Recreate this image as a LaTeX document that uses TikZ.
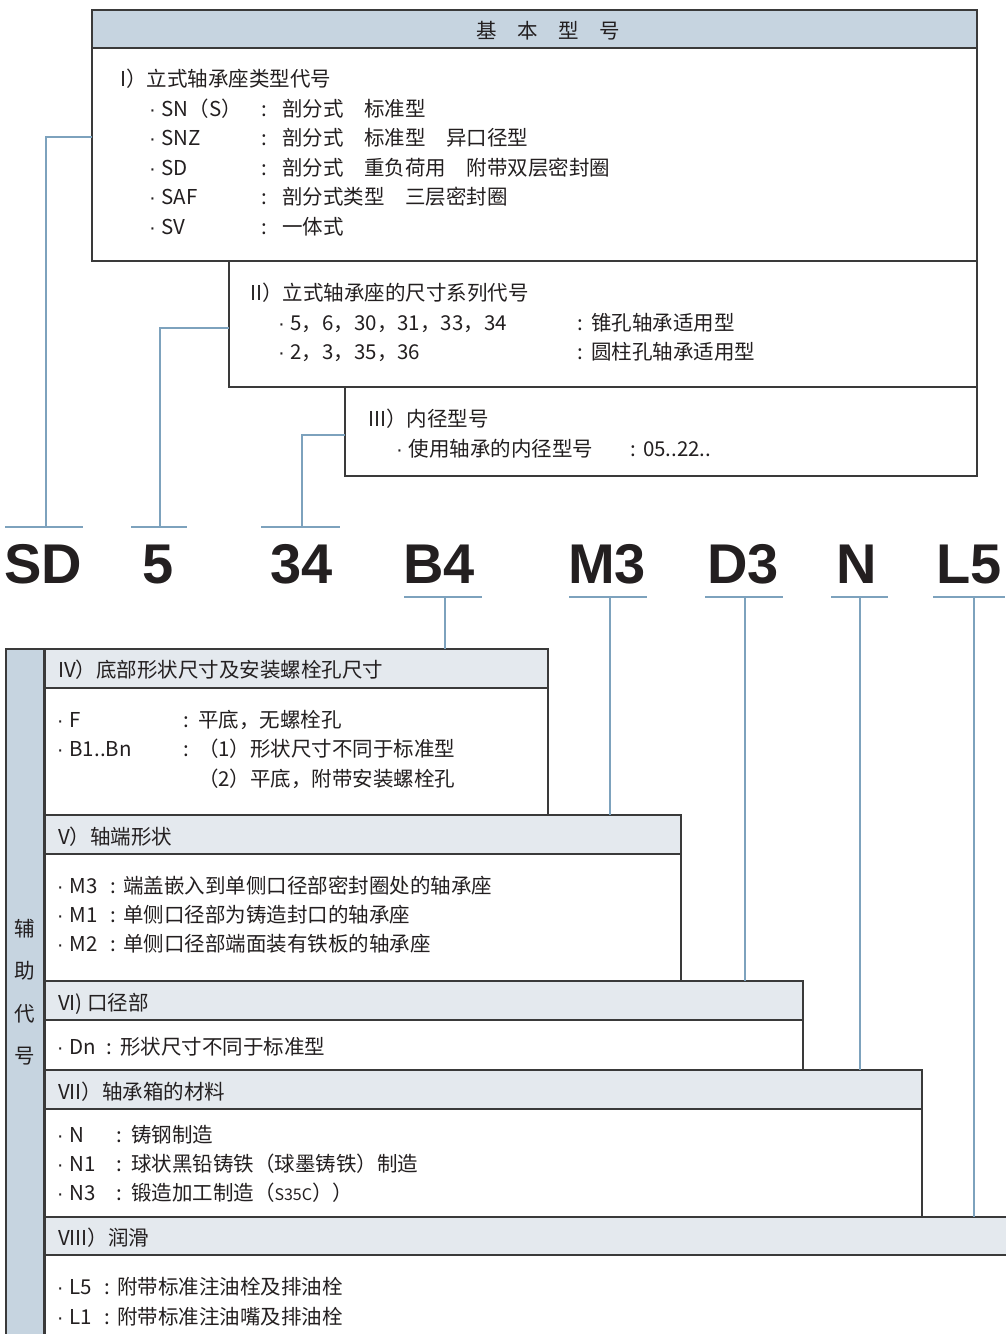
\documentclass[tikz,border=0pt]{standalone}
\usepackage{fontspec}
\setmainfont{Noto Sans CJK SC}
\newfontfamily\bigfont{Liberation Sans}
\newfontfamily\latfont{Liberation Sans}
\newcommand\bul{\makebox[13.5pt][l]{\latfont\hspace{1pt}·}}
\definecolor{hdrblue}{HTML}{C6D4E0}
\definecolor{subgrey}{HTML}{E4E9EE}
\definecolor{linkblue}{HTML}{7DA2BD}
\definecolor{frame}{HTML}{3A3A3A}
\definecolor{ink}{HTML}{231F20}
\begin{document}
\begin{tikzpicture}[x=1pt,y=-1pt,
  txt/.style={font=\fontsize{20.5}{21}\selectfont, text=ink, inner sep=0, outer sep=0, anchor=base west},
  colon/.style={font=\fontsize{20.5}{21}\selectfont, text=ink, inner sep=0, outer sep=0, anchor=base},
  biglet/.style={font=\bigfont\bfseries\fontsize{56}{56}\selectfont, text=ink, inner sep=0, anchor=base},
  topbox/.style={draw=frame, line width=1.3pt, fill=white, anchor=north west, inner sep=0, outer sep=0},
  tophead/.style={topbox, fill=hdrblue},
  subhead/.style={topbox, fill=subgrey},
  conn/.style={draw=linkblue, line width=2.4pt}
]
\useasboundingbox (0,0) rectangle (1005,1334);
\fill[white] (0,0) rectangle (1005,1334);

% ---------- basic type boxes ----------
\node[topbox, minimum width=885pt, minimum height=213pt] (b1body) at (92,48) {};
\node[tophead, minimum width=885pt, minimum height=38pt] (b1head) at (92,10) {};
\node[topbox, minimum width=748pt, minimum height=126pt] (b2body) at (229,261) {};
\node[topbox, minimum width=632pt, minimum height=89pt] (b3body) at (345,387) {};

\node[txt, anchor=base] (hdr) at (548,38) {基\hspace{20.5pt}本\hspace{20.5pt}型\hspace{20.5pt}号};

\node[txt] (t1) at (120,86) {I）立式轴承座类型代号};
\node[txt] (t1a) at (148,116) {\bul SN（S）};
\node[colon] (c1a) at (264,116) {:};
\node[txt] (d1a) at (282,116) {剖分式　标准型};
\node[txt] (t1b) at (148,145) {\bul SNZ};
\node[colon] (c1b) at (264,145) {:};
\node[txt] (d1b) at (282,145) {剖分式　标准型　异口径型};
\node[txt] (t1c) at (148,175) {\bul SD};
\node[colon] (c1c) at (264,175) {:};
\node[txt] (d1c) at (282,175) {剖分式　重负荷用　附带双层密封圈};
\node[txt] (t1d) at (148,204) {\bul SAF};
\node[colon] (c1d) at (264,204) {:};
\node[txt] (d1d) at (282,204) {剖分式类型　三层密封圈};
\node[txt] (t1e) at (148,234) {\bul SV};
\node[colon] (c1e) at (264,234) {:};
\node[txt] (d1e) at (282,234) {一体式};

\node[txt] (t2) at (250,300) {II）立式轴承座的尺寸系列代号};
\node[txt] (t2a) at (277,330) {\bul 5，6，30，31，33，34};
\node[colon] (c2a) at (580,330) {:};
\node[txt] (d2a) at (591,330) {锥孔轴承适用型};
\node[txt] (t2b) at (277,359) {\bul 2，3，35，36};
\node[colon] (c2b) at (580,359) {:};
\node[txt] (d2b) at (591,359) {圆柱孔轴承适用型};

\node[txt] (t3) at (368,426) {III）内径型号};
\node[txt] (t3a) at (395,456) {\bul 使用轴承的内径型号};
\node[colon] (c3a) at (633,456) {:};
\node[txt] (d3a) at (643,456) {05..22..};

% ---------- code letters ----------
\node[biglet] (lSD) at (43,583) {SD};
\node[biglet] (l5) at (158,583) {5};
\node[biglet] (l34) at (302,583) {34};
\node[biglet] (lB4) at (439,583) {B4};
\node[biglet] (lM3) at (607,583) {M3};
\node[biglet] (lD3) at (743,583) {D3};
\node[biglet] (lN) at (857,583) {N};
\node[biglet] (lL5) at (969,583) {L5};

% ---------- auxiliary boxes ----------
\node[tophead, minimum width=38pt, minimum height=700pt] (band) at (6,649) {};
\node[txt, anchor=base] (v1) at (25,936) {辅};
\node[txt, anchor=base] (v2) at (25,978) {助};
\node[txt, anchor=base] (v3) at (25,1021) {代};
\node[txt, anchor=base] (v4) at (25,1063) {号};

\node[topbox, minimum width=503pt, minimum height=166pt] (b4body) at (45,649) {};
\node[subhead, minimum width=503pt, minimum height=39pt] (b4head) at (45,649) {};
\node[topbox, minimum width=636pt, minimum height=166pt] (b5body) at (45,815) {};
\node[subhead, minimum width=636pt, minimum height=39pt] (b5head) at (45,815) {};
\node[topbox, minimum width=758pt, minimum height=89pt] (b6body) at (45,981) {};
\node[subhead, minimum width=758pt, minimum height=39pt] (b6head) at (45,981) {};
\node[topbox, minimum width=877pt, minimum height=147pt] (b7body) at (45,1070) {};
\node[subhead, minimum width=877pt, minimum height=39pt] (b7head) at (45,1070) {};
\node[topbox, minimum width=970pt, minimum height=140pt] (b8body) at (45,1217) {};
\node[subhead, minimum width=970pt, minimum height=38pt] (b8head) at (45,1217) {};

\node[txt] (t4) at (58,677) {IV）底部形状尺寸及安装螺栓孔尺寸};
\node[txt] (t4a) at (56,727) {\bul F};
\node[colon] (c4a) at (186,727) {:};
\node[txt] (d4a) at (198,727) {平底，无螺栓孔};
\node[txt] (t4b) at (56,756) {\bul B1..Bn};
\node[colon] (c4b) at (186,756) {:};
\node[txt] (d4b) at (198,756) {（1）形状尺寸不同于标准型};
\node[txt] (d4c) at (198,786) {（2）平底，附带安装螺栓孔};

\node[txt] (t5) at (58,844) {V）轴端形状};
\node[txt] (t5a) at (56,893) {\bul M3};
\node[colon] (c5a) at (113,893) {:};
\node[txt] (d5a) at (123,893) {端盖嵌入到单侧口径部密封圈处的轴承座};
\node[txt] (t5b) at (56,922) {\bul M1};
\node[colon] (c5b) at (113,922) {:};
\node[txt] (d5b) at (123,922) {单侧口径部为铸造封口的轴承座};
\node[txt] (t5c) at (56,951) {\bul M2};
\node[colon] (c5c) at (113,951) {:};
\node[txt] (d5c) at (123,951) {单侧口径部端面装有铁板的轴承座};

\node[txt] (t6) at (58,1010) {VI) 口径部};
\node[txt] (t6a) at (56,1054) {\bul Dn};
\node[colon] (c6a) at (109,1054) {:};
\node[txt] (d6a) at (120,1054) {形状尺寸不同于标准型};

\node[txt] (t7) at (58,1099) {VII）轴承箱的材料};
\node[txt] (t7a) at (56,1142) {\bul N};
\node[colon] (c7a) at (119,1142) {:};
\node[txt] (d7a) at (131,1142) {铸钢制造};
\node[txt] (t7b) at (56,1171) {\bul N1};
\node[colon] (c7b) at (119,1171) {:};
\node[txt] (d7b) at (131,1171) {球状黑铅铸铁（球墨铸铁）制造};
\node[txt] (t7c) at (56,1200) {\bul N3};
\node[colon] (c7c) at (119,1200) {:};
\node[txt] (d7c) at (131,1200) {锻造加工制造（{\fontsize{16}{16}\selectfont S35C}））};

\node[txt] (t8) at (58,1245) {VIII）润滑};
\node[txt] (t8a) at (56,1294) {\bul L5};
\node[colon] (c8a) at (107,1294) {:};
\node[txt] (d8a) at (117,1294) {附带标准注油栓及排油栓};
\node[txt] (t8b) at (56,1324) {\bul L1};
\node[colon] (c8b) at (107,1324) {:};
\node[txt] (d8b) at (117,1324) {附带标准注油嘴及排油栓};

% ---------- connectors (top) ----------
\coordinate (kSD) at (46,527);
\coordinate (k5) at (160,527);
\coordinate (k34) at (302,527);
\draw[conn] (b1body.west |- 0,137) -| (kSD);
\draw[conn] (b2body.west |- 0,328) -| (k5);
\draw[conn] (b3body.west |- 0,435) -| (k34);
\draw[conn] (5,527) -- (83,527);
\draw[conn] (131,527) -- (187,527);
\draw[conn] (261,527) -- (340,527);

% ---------- connectors (bottom) ----------
\coordinate (kB4) at (445,597);
\coordinate (kM3) at (610,597);
\coordinate (kD3) at (745,597);
\coordinate (kN) at (860,597);
\coordinate (kL5) at (974,597);
\draw[conn] (404,597) -- (482,597);
\draw[conn] (569,597) -- (647,597);
\draw[conn] (705,597) -- (783,597);
\draw[conn] (831,597) -- (888,597);
\draw[conn] (933,597) -- (1005,597);
\draw[conn] (kB4) -- (kB4 |- b4head.north);
\draw[conn] (kM3) -- (kM3 |- b5head.north);
\draw[conn] (kD3) -- (kD3 |- b6head.north);
\draw[conn] (kN) -- (kN |- b7head.north);
\draw[conn] (kL5) -- (kL5 |- b8head.north);
\end{tikzpicture}
\end{document}
